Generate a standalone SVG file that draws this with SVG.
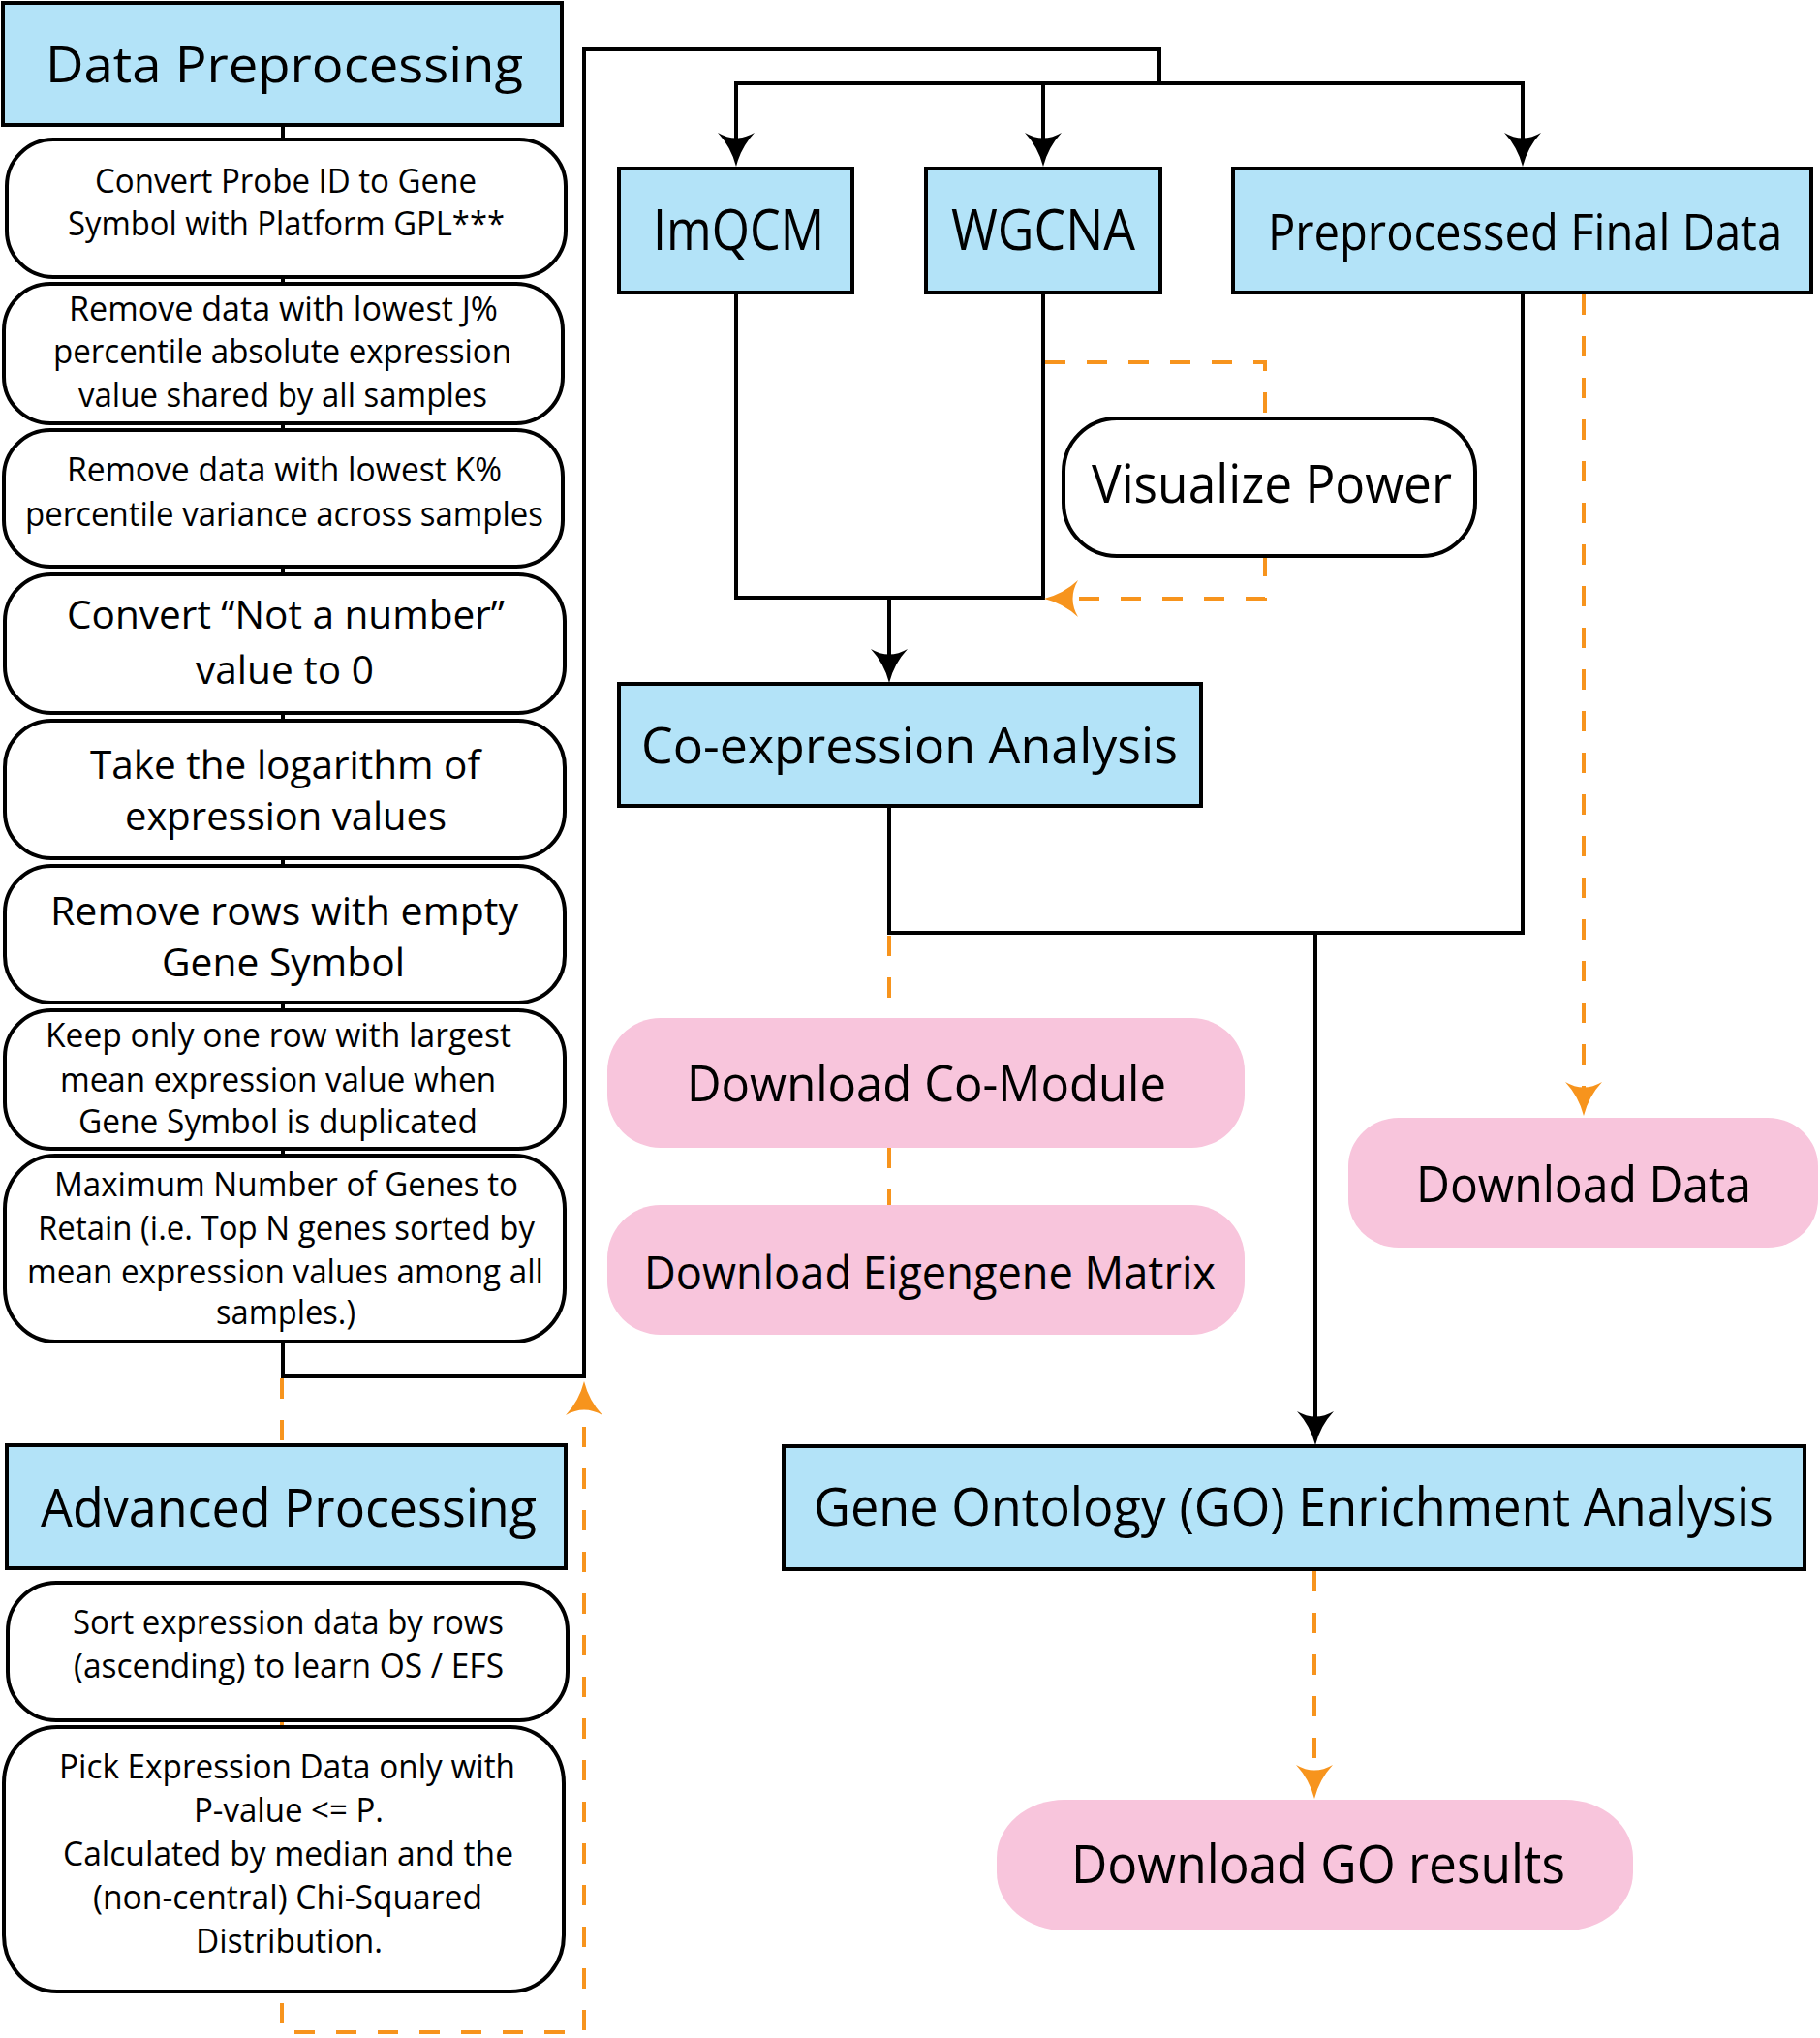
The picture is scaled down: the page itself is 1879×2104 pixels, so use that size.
<svg xmlns="http://www.w3.org/2000/svg" xmlns:xlink="http://www.w3.org/1999/xlink" width="1879" height="2104" viewBox="0 0 1879 2104">
<style>
.blue{fill:#B3E3F8;stroke:#000;stroke-width:4}
.wbox{fill:#fff;stroke:#000;stroke-width:4}
.pink{fill:#F8C5DC;stroke:none}
.ln{fill:none;stroke:#000;stroke-width:4}
.dl{fill:none;stroke:#F7941D;stroke-width:4;stroke-dasharray:21 22}
.ahb{fill:#000}
.aho{fill:#F7941D}
text{font-family:"Open Sans","Noto Sans",sans-serif;fill:#000;text-anchor:middle}
.s34{font-size:34px}
.s40{font-size:40px}
.s48{font-size:48px}
.s52{font-size:52px}
.s55{font-size:55px}
.s58{font-size:58px}
</style>
<defs>
<path id="ah" d="M0,0 Q-5,-20 -19,-35 Q0,-24 19,-35 Q5,-20 0,0 Z"/>
</defs>
<rect width="1879" height="2104" fill="#fff"/>
<g id="connectors">
<path class="ln" d="M292,129 V1421 H603 V51 H1197 V86"/>
<path class="ln" d="M760,152 V86 H1572 V152"/>
<path class="ln" d="M1077,86 V152"/>
<path class="ln" d="M760,302 V617 H1077 V302"/>
<path class="ln" d="M918,617 V685"/>
<path class="ln" d="M918,832 V963 H1572 V302"/>
<path class="ln" d="M1358,963 V1472"/>
<path class="dl" d="M1079,374 H1306 V432"/>
<path class="dl" d="M1306,574 V618 H1102"/>
<path class="dl" d="M1635,304 V1132"/>
<path class="dl" d="M918,966 V1051"/>
<path class="dl" d="M918,1185 V1244"/>
<path class="dl" d="M1357,1622 V1837"/>
<path class="dl" d="M291,1423 V2098 H603 V1446"/>
<use xlink:href="#ah" class="ahb" transform="translate(760,172)"/>
<use xlink:href="#ah" class="ahb" transform="translate(1077,172)"/>
<use xlink:href="#ah" class="ahb" transform="translate(1572,172)"/>
<use xlink:href="#ah" class="ahb" transform="translate(918,705)"/>
<use xlink:href="#ah" class="ahb" transform="translate(1358,1492)"/>
<use xlink:href="#ah" class="aho" transform="translate(1635,1152)"/>
<use xlink:href="#ah" class="aho" transform="translate(1357,1857)"/>
<use xlink:href="#ah" class="aho" transform="translate(1078,618) rotate(90)"/>
<use xlink:href="#ah" class="aho" transform="translate(603,1426) rotate(180)"/>
</g>
<g id="data-preprocessing">
<rect class="blue" x="3" y="3" width="577" height="126"/>
<text class="s52" x="293.5" y="85" textLength="493" lengthAdjust="spacingAndGlyphs">Data Preprocessing</text>
</g>
<g id="convert-probe">
<rect class="wbox" x="7" y="144" width="577" height="142" rx="48" ry="48"/>
<text class="s34" x="295" y="199" textLength="394" lengthAdjust="spacingAndGlyphs">Convert Probe ID to Gene</text>
<text class="s34" x="295.5" y="243" textLength="451" lengthAdjust="spacingAndGlyphs">Symbol with Platform GPL***</text>
</g>
<g id="remove-j">
<rect class="wbox" x="4" y="293" width="577" height="144" rx="48" ry="48"/>
<text class="s34" x="292.5" y="331" textLength="443" lengthAdjust="spacingAndGlyphs">Remove data with lowest J%</text>
<text class="s34" x="291.5" y="375" textLength="473" lengthAdjust="spacingAndGlyphs">percentile absolute expression</text>
<text class="s34" x="292" y="420" textLength="422" lengthAdjust="spacingAndGlyphs">value shared by all samples</text>
</g>
<g id="remove-k">
<rect class="wbox" x="4" y="444" width="577" height="141" rx="48" ry="48"/>
<text class="s34" x="293.5" y="497" textLength="449" lengthAdjust="spacingAndGlyphs">Remove data with lowest K%</text>
<text class="s34" x="293.5" y="543" textLength="535" lengthAdjust="spacingAndGlyphs">percentile variance across samples</text>
</g>
<g id="convert-nan">
<rect class="wbox" x="5" y="593" width="578" height="143" rx="48" ry="48"/>
<text class="s40" x="295" y="649" textLength="452" lengthAdjust="spacingAndGlyphs">Convert “Not a number”</text>
<text class="s40" x="294" y="706" textLength="184" lengthAdjust="spacingAndGlyphs">value to 0</text>
</g>
<g id="take-log">
<rect class="wbox" x="5" y="744" width="578" height="142" rx="48" ry="48"/>
<text class="s40" x="294.5" y="804" textLength="403" lengthAdjust="spacingAndGlyphs">Take the logarithm of</text>
<text class="s40" x="295" y="857" textLength="332" lengthAdjust="spacingAndGlyphs">expression values</text>
</g>
<g id="remove-empty">
<rect class="wbox" x="5" y="894" width="578" height="141" rx="48" ry="48"/>
<text class="s40" x="293.5" y="955" textLength="483" lengthAdjust="spacingAndGlyphs">Remove rows with empty</text>
<text class="s40" x="292.5" y="1008" textLength="251" lengthAdjust="spacingAndGlyphs">Gene Symbol</text>
</g>
<g id="keep-one">
<rect class="wbox" x="5" y="1043" width="578" height="143" rx="48" ry="48"/>
<text class="s34" x="287.5" y="1081" textLength="481" lengthAdjust="spacingAndGlyphs">Keep only one row with largest</text>
<text class="s34" x="287" y="1127" textLength="450" lengthAdjust="spacingAndGlyphs">mean expression value when</text>
<text class="s34" x="287" y="1170" textLength="412" lengthAdjust="spacingAndGlyphs">Gene Symbol is duplicated</text>
</g>
<g id="max-genes">
<rect class="wbox" x="5" y="1193" width="578" height="192" rx="52" ry="55"/>
<text class="s34" x="295.5" y="1235" textLength="479" lengthAdjust="spacingAndGlyphs">Maximum Number of Genes to</text>
<text class="s34" x="295.5" y="1280" textLength="513" lengthAdjust="spacingAndGlyphs">Retain (i.e. Top N genes sorted by</text>
<text class="s34" x="294.5" y="1325" textLength="533" lengthAdjust="spacingAndGlyphs">mean expression values among all</text>
<text class="s34" x="295" y="1367" textLength="144" lengthAdjust="spacingAndGlyphs">samples.)</text>
</g>
<g id="advanced-processing">
<rect class="blue" x="7" y="1492" width="577" height="127"/>
<text class="s55" x="298" y="1576" textLength="512" lengthAdjust="spacingAndGlyphs">Advanced Processing</text>
</g>
<g id="sort-expression">
<rect class="wbox" x="8" y="1634" width="578" height="142" rx="50" ry="50"/>
<text class="s34" x="297.5" y="1687" textLength="445" lengthAdjust="spacingAndGlyphs">Sort expression data by rows</text>
<text class="s34" x="298" y="1732" textLength="444" lengthAdjust="spacingAndGlyphs">(ascending) to learn OS / EFS</text>
</g>
<g id="pick-expression">
<rect class="wbox" x="4" y="1783" width="578" height="273" rx="55" ry="58"/>
<text class="s34" x="296.5" y="1836" textLength="471" lengthAdjust="spacingAndGlyphs">Pick Expression Data only with</text>
<text class="s34" x="298" y="1881" textLength="196" lengthAdjust="spacingAndGlyphs">P-value &lt;= P.</text>
<text class="s34" x="297.5" y="1926" textLength="465" lengthAdjust="spacingAndGlyphs">Calculated by median and the</text>
<text class="s34" x="297" y="1971" textLength="402" lengthAdjust="spacingAndGlyphs">(non-central) Chi-Squared</text>
<text class="s34" x="298.5" y="2016" textLength="193" lengthAdjust="spacingAndGlyphs">Distribution.</text>
</g>
<g id="imqcm">
<rect class="blue" x="639" y="174" width="241" height="128"/>
<text class="s58" x="762.5" y="258" textLength="177" lengthAdjust="spacingAndGlyphs">ImQCM</text>
</g>
<g id="wgcna">
<rect class="blue" x="956" y="174" width="242" height="128"/>
<text class="s58" x="1077" y="258" textLength="190" lengthAdjust="spacingAndGlyphs">WGCNA</text>
</g>
<g id="preprocessed-final-data">
<rect class="blue" x="1273" y="174" width="597" height="128"/>
<text class="s52" transform="translate(1574.5,258) scale(0.85,1)" x="0" y="0" textLength="625" lengthAdjust="spacingAndGlyphs">Preprocessed Final Data</text>
</g>
<g id="visualize-power">
<rect class="wbox" x="1098" y="432" width="425" height="142" rx="55" ry="55"/>
<text class="s55" x="1313" y="519" textLength="372" lengthAdjust="spacingAndGlyphs">Visualize Power</text>
</g>
<g id="co-expression-analysis">
<rect class="blue" x="639" y="706" width="601" height="126"/>
<text class="s52" x="939" y="788" textLength="554" lengthAdjust="spacingAndGlyphs">Co-expression Analysis</text>
</g>
<g id="download-co-module">
<rect class="pink" x="627" y="1051" width="658" height="134" rx="55" ry="55"/>
<text class="s52" x="956.5" y="1137" textLength="495" lengthAdjust="spacingAndGlyphs">Download Co-Module</text>
</g>
<g id="download-eigengene-matrix">
<rect class="pink" x="627" y="1244" width="658" height="134" rx="55" ry="55"/>
<text class="s48" x="960" y="1331" textLength="590" lengthAdjust="spacingAndGlyphs">Download Eigengene Matrix</text>
</g>
<g id="download-data">
<rect class="pink" x="1392" y="1154" width="485" height="134" rx="52" ry="50"/>
<text class="s52" x="1635" y="1241" textLength="346" lengthAdjust="spacingAndGlyphs">Download Data</text>
</g>
<g id="go-enrichment">
<rect class="blue" x="809" y="1493" width="1054" height="127"/>
<text class="s55" transform="translate(1335.5,1575) scale(0.88,1)" x="0" y="0" textLength="1126" lengthAdjust="spacingAndGlyphs">Gene Ontology (GO) Enrichment Analysis</text>
</g>
<g id="download-go-results">
<rect class="pink" x="1029" y="1858" width="657" height="135" rx="70" ry="60"/>
<text class="s55" x="1361" y="1944" textLength="510" lengthAdjust="spacingAndGlyphs">Download GO results</text>
</g>
</svg>
